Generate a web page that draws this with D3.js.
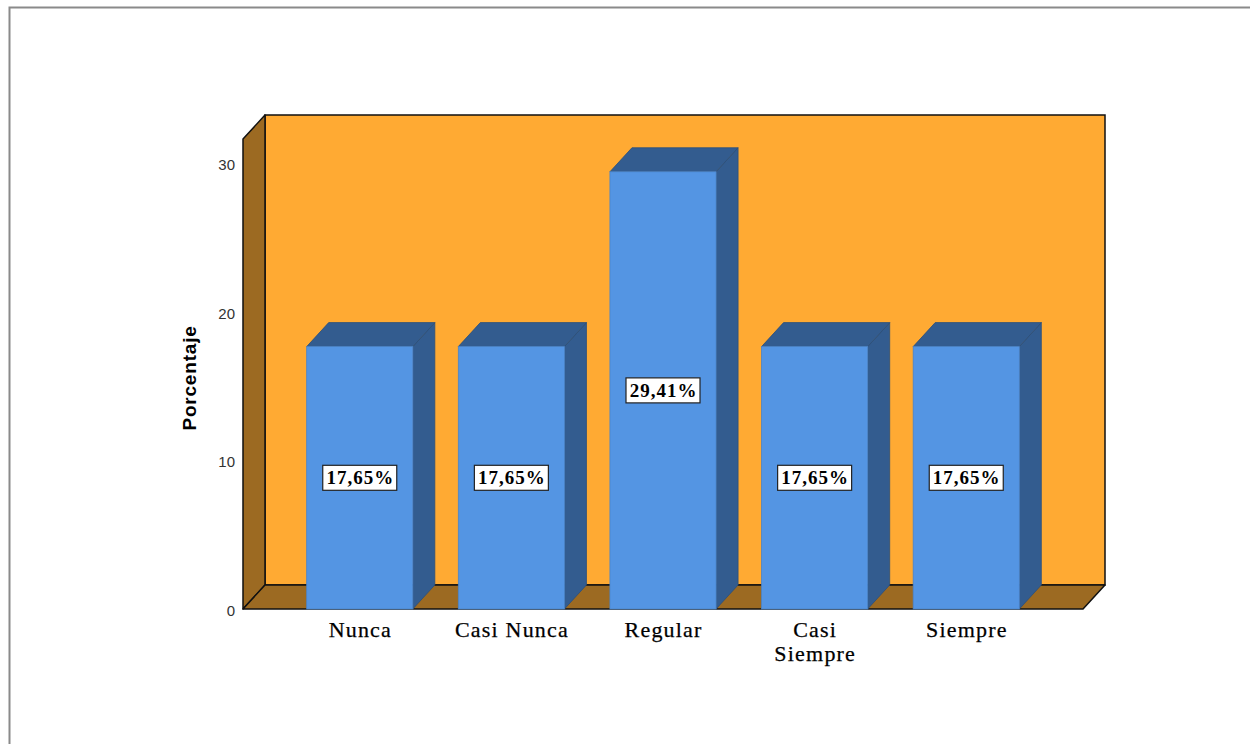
<!DOCTYPE html>
<html><head><meta charset="utf-8">
<script src="https://cdn.jsdelivr.net/npm/d3@7"></script>
<style>html,body{margin:0;padding:0;background:#fff;overflow:hidden}</style>
</head><body>
<svg id="c" width="1250" height="744"></svg>
<script>
const categories = ["Nunca", "Casi Nunca", "Regular", "Casi Siempre", "Siempre"];
const categoryLines = [["Nunca"], ["Casi Nunca"], ["Regular"], ["Casi", "Siempre"], ["Siempre"]];
const values = [17.65, 17.65, 29.41, 17.65, 17.65];
const valueLabels = ["17,65%", "17,65%", "29,41%", "17,65%", "17,65%"];
const yTicks = [0, 10, 20, 30];
const yTitle = "Porcentaje";

const svg = d3.select("#c");
const DX = 22, DY = 24;
const x0 = 243, x1 = 1083;
const y = d3.scaleLinear().domain([0, 30]).range([609, 163]);
const x = d3.scaleBand().domain(categories).range([x0, x1]).paddingInner(0.3).paddingOuter(0.42);

// outer frame
svg.append("path").attr("d", "M9.5,744 V7.5 H1250").attr("fill", "none").attr("stroke", "#8a8a8a").attr("stroke-width", 2);

const yTop = 139, yBot = y(0);
const wallFill = "#FFAA33", sideFill = "#9C6A22";
// back wall
svg.append("rect").attr("x", x0 + DX).attr("y", yTop - DY).attr("width", x1 - x0).attr("height", yBot - yTop)
  .attr("fill", wallFill).attr("stroke", "#111").attr("stroke-width", 1.5);
// left wall
svg.append("path").attr("d", `M${x0},${yBot} V${yTop} L${x0+DX},${yTop-DY} V${yBot-DY} Z`)
  .attr("fill", sideFill).attr("stroke", "#111").attr("stroke-width", 1.5).attr("stroke-linejoin", "round");
// floor
svg.append("path").attr("d", `M${x0},${yBot} L${x0+DX},${yBot-DY} H${x1+DX} L${x1},${yBot} Z`)
  .attr("fill", sideFill).attr("stroke", "#111").attr("stroke-width", 1.5).attr("stroke-linejoin", "round");

// bars
const frontC = "#5495E3", darkC = "#335C8F";
const bars = svg.append("g").selectAll("g").data(categories).join("g");
bars.each(function(c, i) {
  const g = d3.select(this);
  const bx = x(c), bw = x.bandwidth(), ty = y(values[i]);
  g.append("path").attr("d", `M${bx+bw},${yBot} V${ty} L${bx+bw+DX},${ty-DY} V${yBot-DY} Z`)
    .attr("fill", darkC).attr("stroke", "#2c4f7a").attr("stroke-width", 0.8);
  g.append("path").attr("d", `M${bx},${ty} L${bx+DX},${ty-DY} H${bx+bw+DX} L${bx+bw},${ty} Z`)
    .attr("fill", darkC).attr("stroke", "#2c4f7a").attr("stroke-width", 0.8);
  g.append("rect").attr("x", bx).attr("y", ty).attr("width", bw).attr("height", yBot - ty)
    .attr("fill", frontC).attr("stroke", "#4a84c9").attr("stroke-width", 0.8);
  // value label
  const cx = bx + bw / 2, cy = y(values[i] / 2);
  g.append("rect").attr("x", cx - 37).attr("y", cy - 12.5).attr("width", 74).attr("height", 25)
    .attr("fill", "#fff").attr("stroke", "#222").attr("stroke-width", 1.2);
  g.append("text").attr("x", cx + 0.5).attr("y", cy + 6.5).attr("text-anchor", "middle")
    .attr("font-family", "Liberation Serif, Times New Roman, serif").attr("font-weight", "bold")
    .attr("font-size", 19).attr("letter-spacing", 1).attr("fill", "#000").text(valueLabels[i]);
  // category label
  categoryLines[i].forEach((ln, k) => {
    g.append("text").attr("x", cx + 0.6).attr("y", 637 + k * 24).attr("text-anchor", "middle")
      .attr("font-family", "Liberation Serif, Times New Roman, serif").attr("font-size", 22)
      .attr("letter-spacing", 1.2).attr("fill", "#000").attr("stroke", "#000").attr("stroke-width", 0.25)
      .text(ln);
  });
});

// y tick labels
svg.append("g").selectAll("text").data(yTicks).join("text")
  .attr("x", 235).attr("y", d => y(d) + 7).attr("text-anchor", "end")
  .attr("font-family", "Liberation Sans, Arial, sans-serif").attr("font-size", 15).attr("fill", "#333")
  .text(d => d);

// y title
svg.append("text").attr("transform", "translate(196,378) rotate(-90)").attr("text-anchor", "middle")
  .attr("font-family", "Liberation Sans, Arial, sans-serif").attr("font-weight", "bold").attr("font-size", 19)
  .attr("letter-spacing", 0.8).attr("fill", "#000").text(yTitle);
</script>
</body></html>
